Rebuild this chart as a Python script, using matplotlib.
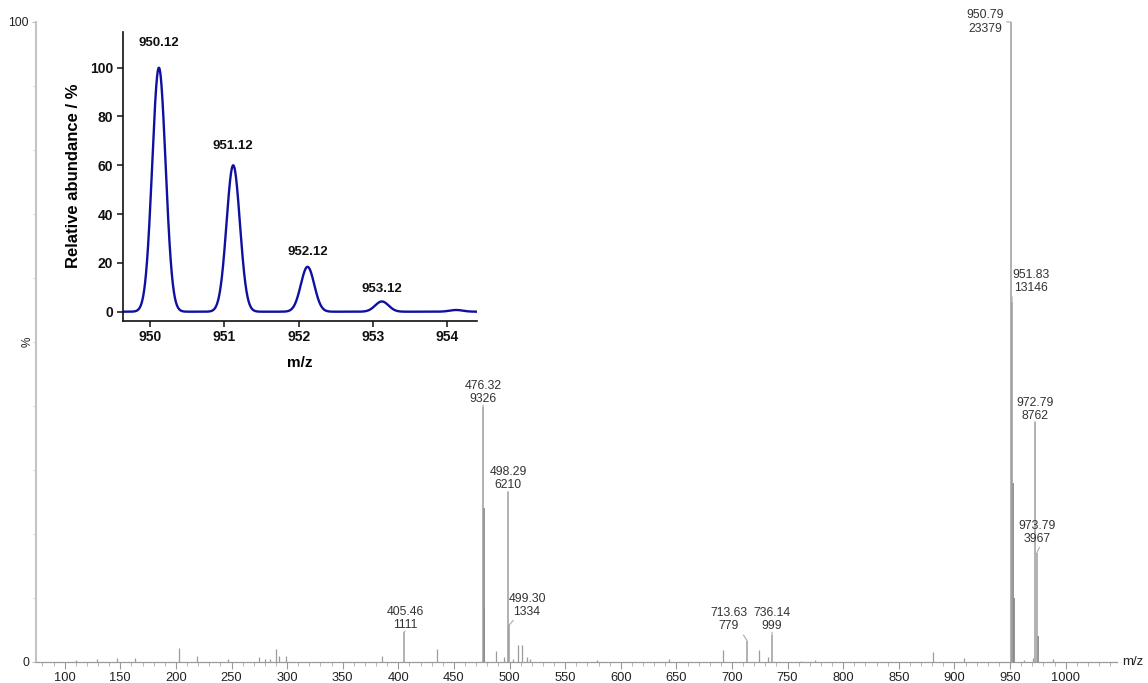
import numpy as np
import matplotlib
matplotlib.use("Agg")
import matplotlib.pyplot as plt
from matplotlib.ticker import MultipleLocator, FixedLocator

plt.rcParams['font.family'] = ['Liberation Sans', 'DejaVu Sans']

# ---------------- data: main spectrum (m/z, relative %) ----------------
label_mz = [950.79, 951.83, 972.79, 973.79, 476.32, 498.29, 499.30, 405.46, 713.63, 736.14]
label_int = [23379, 13146, 8762, 3967, 9326, 6210, 1334, 1111, 779, 999]
base_int = 23379

iso_mz = [476.82, 477.32, 952.80, 953.80, 974.80]
iso_pct = [24.0, 8.5, 28.0, 10.0, 4.0]

minor_mz = [110, 128.8, 147.3, 163.5, 203.0, 218.7, 247.0, 274.4, 280.5, 284.5, 290.0,
            292.4, 299.0, 385.0, 434.4, 487.5, 495.3, 503.4, 507.9, 511.5, 515.4, 518.5,
            578.9, 643.0, 692.2, 724.5, 732.6, 762.0, 775.0, 880.4, 908.9, 962.8,
            970.6, 988.9]
minor_pct = [0.3, 0.5, 0.6, 0.6, 2.2, 0.9, 0.4, 0.8, 0.5, 0.5, 2.1,
             1.0, 1.0, 0.9, 2.0, 1.7, 0.8, 0.5, 2.6, 2.6, 0.8, 0.5,
             0.3, 0.4, 1.8, 1.8, 0.8, 0.2, 0.3, 1.6, 0.6, 0.3,
             0.6, 0.5]

# ---------------- data: inset isotope pattern ----------------
inset_mz = [950.12, 951.12, 952.12, 953.12, 954.12]
inset_rel = [100, 60, 18.4, 4.2, 0.7]
inset_labels = ["950.12", "951.12", "952.12", "953.12"]

# label text positions (layout): (m/z, %) of text centre, and connector anchor on text
label_text_pos = [(927.5, 100.0), (968.4, 59.5), (972.5, 39.5), (974.3, 20.3),
                  (476.1, 42.1), (498.6, 28.6), (515.7, 8.9), (406.0, 6.8),
                  (697.0, 6.6), (736.0, 6.6)]
label_relpos = [(1.0, 0.5), (0.0, 0.0), (0.5, 0.0), (0.6, 0.0),
                (0.5, 0.0), (0.5, 0.0), (0.2, 0.0), (0.5, 0.0),
                (0.85, 0.0), (0.5, 0.0)]

W, H = 1148, 683
fig = plt.figure(figsize=(W / 100, H / 100), dpi=100)

ax = fig.add_axes([36 / W, 1 - 662 / H, (1116.7 - 36) / W, 640 / H])
ax.set_xlim(74.2, 1045.9)
ax.set_ylim(0, 100)

peak_col = '#9c9c9c'
label_pct = [v / base_int * 100 for v in label_int]
ax.vlines(minor_mz, 0, minor_pct, color=peak_col, lw=0.9)
ax.vlines(iso_mz, 0, iso_pct, color='#8a8a8a', lw=1.3)
ax.vlines(label_mz, 0, label_pct, color=peak_col, lw=1.1)

for mz, inten, pct, tp, rp in zip(label_mz, label_int, label_pct, label_text_pos, label_relpos):
    ax.annotate(f"{mz:.2f}\n{inten}", xy=(mz, pct), xytext=tp, textcoords='data',
                ha='center', va='center', fontsize=8.8, color='#333333',
                linespacing=1.12, annotation_clip=False,
                arrowprops=dict(arrowstyle='-', color='#aaaaaa', lw=0.8,
                                shrinkA=0, shrinkB=0, relpos=rp))

for s in ['top', 'right']:
    ax.spines[s].set_visible(False)
ax.spines['left'].set_color('#c4c4c4')
ax.spines['left'].set_linewidth(1.5)
ax.spines['bottom'].set_color('#9a9a9a')
ax.spines['bottom'].set_linewidth(0.9)

ax.xaxis.set_major_locator(FixedLocator(list(range(100, 1001, 50))))
ax.xaxis.set_minor_locator(MultipleLocator(10))
ax.tick_params(axis='x', which='major', length=5, width=0.8, color='#999999',
               labelsize=9.3, labelcolor='#222222', pad=2)
ax.tick_params(axis='x', which='minor', length=3, width=0.6, color='#aaaaaa')
ax.yaxis.set_major_locator(FixedLocator([0, 100]))
ax.yaxis.set_minor_locator(MultipleLocator(10))
ax.tick_params(axis='y', which='major', length=3, width=0.8, color='#bbbbbb',
               labelsize=8.8, labelcolor='#222222', pad=2)
ax.tick_params(axis='y', which='minor', length=2, width=0.6, color='#cccccc')

fig.text(1122 / W, 1 - 662 / H, 'm/z', fontsize=9.5, color='#222222', va='center', ha='left')
fig.text(28 / W, 1 - 342 / H, '%', fontsize=8.5, color='#222222', rotation=90,
         va='center', ha='center')

# ---------------- inset ----------------
ins = fig.add_axes([122.7 / W, 1 - 320.7 / H, (477 - 122.7) / W, 289 / H])
ins.set_facecolor('white')
ins.set_xlim(949.633, 954.4)
ins.set_ylim(-3.69, 114.75)
xg = np.linspace(949.633, 954.4, 2000)
sigma = 0.09
yg = np.zeros_like(xg)
for m, h in zip(inset_mz, inset_rel):
    yg += h * np.exp(-(xg - m) ** 2 / (2 * sigma ** 2))
ins.plot(xg, yg, color='#1010a0', lw=1.7)
for m, h, lab in zip(inset_mz, inset_rel, inset_labels):
    ins.text(m, h + 5 + 0.05 * h, lab, ha='center', va='center',
             fontsize=9.5, fontweight='bold', color='#111111')

for s in ['top', 'right']:
    ins.spines[s].set_visible(False)
for s in ['left', 'bottom']:
    ins.spines[s].set_linewidth(1.2)
    ins.spines[s].set_color('#111111')
ins.set_xticks([950, 951, 952, 953, 954])
ins.set_yticks([0, 20, 40, 60, 80, 100])
ins.tick_params(length=4, width=1.1, labelsize=10, pad=3, colors='#111111')
for t in ins.get_xticklabels() + ins.get_yticklabels():
    t.set_fontweight('bold')
ins.set_ylabel('Relative abundance / %', fontsize=12, fontweight='bold', labelpad=6)
ins.set_xlabel('m/z', fontsize=11, fontweight='bold', labelpad=8)

fig.savefig('out.png', dpi=100)
